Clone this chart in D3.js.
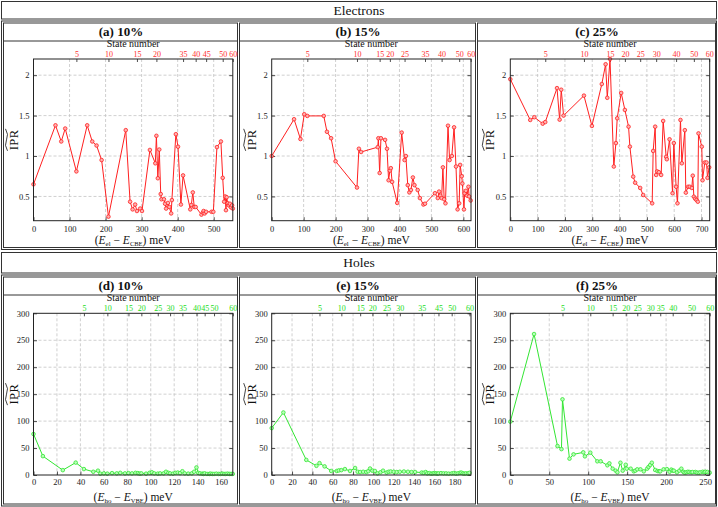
<!DOCTYPE html>
<html><head><meta charset="utf-8">
<script src="https://cdn.jsdelivr.net/npm/d3@7"></script>
<style>
body{margin:0;background:#fff}
svg{display:block}
text{font-family:"Liberation Serif","DejaVu Serif",serif}
</style>
</head><body>
<svg id="c" width="718" height="507"></svg>
<script>
// ---------------- DATA ----------------
const sectionTitles = ["Electrons", "Holes"];
const panelTitles = ["(a) 10%", "(b) 15%", "(c) 25%", "(d) 10%", "(e) 15%", "(f) 25%"];

// Electrons 10%
const e10_E = [0,61,77,88,119, 149,163,175,189,208, 256,268,275,282,287, 296,301,323,338,341, 345,349,353,355,362, 365,368,373,377,382, 384,395,401,409,415, 435,438,442,446,450, 466,470,472,475,479, 494,499,509,520,525, 529,532,534,536,539, 542,545,548,551,553];
const e10_IPR = [0.65,1.38,1.18,1.34,0.81, 1.38,1.18,1.13,0.95,0.25, 1.32,0.435,0.34,0.40,0.32, 0.35,0.32,1.075,0.91,1.25, 0.725,1.08,0.53,0.465,0.465, 0.41,0.35,0.42,0.37,0.29, 0.455,1.27,1.115,0.40,0.76, 0.34,0.395,0.55,0.37,0.37, 0.275,0.30,0.32,0.29,0.31, 0.31,0.31,1.11,1.18,0.73, 0.435,0.50,0.33,0.49,0.415, 0.39,0.41,0.365,0.39,0.35];
// Electrons 15%
const e15_E = [0,70,90,102,111.5, 163,173,186,200,267, 273,280,332,334,338, 342,355,361,366,370, 373,377,393,407,416, 420,426,431,436,442, 447,457,464,475,480, 511,520,524,528,532, 536,540,544,552,557, 564,571,577,582,587, 590,595,597,602,604, 608,612,616,618,623];
const e15_IPR = [1.0,1.455,1.21,1.517,1.496, 1.496,1.30,1.22,0.935,0.61, 1.09,1.05,1.11,1.22,0.79, 1.22,1.20,1.09,0.70,0.82, 0.85,0.68,0.42,1.29,0.95, 1.0,0.64,0.55,0.58,0.735, 0.64,0.58,0.48,0.40,0.41, 0.54,0.48,0.56,0.51,0.48, 0.86,0.465,0.415,1.375,0.95, 1.0,1.355,0.87,0.34,0.415, 0.89,0.75,0.66,0.34,0.54, 0.57,0.51,0.62,0.50,0.45];
// Electrons 25%
const e25_E = [0,73,88,118.5,128, 171,180.6,186.5,195,269.6, 298.8,335,349,355,365, 379,386.6,391.4,406,419.5, 433,437.8,450,457,475.5, 486.5,519.4,523,530.4,534, 537.7,544,552.3,559.6,570.6, 573,583,594,598.7,607, 612,623,628,639,642.6, 651,657,664.6,668,672, 676.7,681.8,686.5,689,701, 703.7,712,718.4,722,728];
const e25_IPR = [1.95,1.446,1.48,1.40,1.42, 1.84,1.45,1.82,1.50,1.747, 1.372,1.89,2.135,1.72,2.2, 0.87,1.16,1.467,1.78,1.57, 1.363,1.116,0.745,0.67,0.605, 0.518,0.415,1.063,1.363,0.766, 0.81,0.80,0.766,1.434,0.99, 0.96,1.207,0.54,1.16,0.62, 0.415,1.446,0.91,1.32,0.547, 0.62,0.62,0.605,0.757,0.497, 0.472,0.456,0.435,1.28,1.116, 0.70,0.92,0.92,0.73,0.86];
// Holes 10%
const h10_E = [0,8,25,36,43, 51,55,57,60,63, 67,71,74,78,81, 84,87,89,90.5,92, 96,99,101,103,106, 108,111,113,115,116.5, 119,121,123,125,127, 129,132,135,137,139, 140.5,142,144,145,146, 148,150,151,152.5,154, 156,158,159.5,161,162.5, 164,165.5,167,168.5,170];
const h10_IPR = [76,35,9,23,11, 6,8,2.5,3,2.5, 3.5,3,4,3,3.5, 3,4,3.5,2.5,3, 2.5,4,5,3,2.5, 3,3,6,4,3, 2.5,4,4.5,3.5,7, 3,2.5,3,6,14, 4,3,2.5,2,3, 2,2,2.5,2,2, 2.5,2,2,2.5,2, 2,2.5,2,2,2];
// Holes 15%
const h15_E = [0,11.5,34,44,47, 52,58.5,64,66,68.5, 72,77,82,84.5,87, 90,93,95,96.7,99, 101.5,104,107,109.5,113, 115,117,120,123,126, 130,134,137.5,141,147.5, 149.5,151.5,153,155,157, 158.5,160,161.5,163,164, 166.5,169,171.5,174,177, 179,181,183,185,186.5, 188,189.5,191,193,194.5];
const h15_IPR = [87,116,28,17,22, 16,7.5,7.5,8.5,9, 11,7.5,13,6,5.5, 6,5.5,7,12,8, 7.5,3,5,8,4.5, 6,6.5,6,5.5,6, 6.5,6,5.5,5.5,4.5, 4,5.5,3,3.5,2.5, 3,3.5,3,2.5,3, 3.5,3,3,2.5,3, 3.5,2.5,3,4,4.5, 3,2.5,3,3,4];
// Holes 25%
const h25_E = [0,30.5,60.6,65.7,67, 76,81.2,93.7,95.8,102.7, 111.7,116,124.6,127.2,131.4, 135.3,137.5,141.4,144.3,148.2, 149.5,154.6,158.5,160.5,163, 167.1,171.4,175.7,177.5,179.6, 181.7,186,189,191,192.5, 196.8,201,204.5,206.7,208.5, 210,214,217,219.6,222, 223.8,226,228,230,232.5, 234,237.6,239.5,241.9,244, 247,249,250.5,253,256];
const h25_IPR = [99,261.5,53.8,48,140.4, 30.3,38.3,42,34.6,41.4, 25.4,25.4,18,21.6,11.7, 8,5,22.8,8,19, 11.7,11.7,6.8,8,10.5, 10.5,6.8,11.7,15,18.5, 22.8,9.3,7.4,7,6.8, 10.5,11,6,10,8, 8,5,8,11.7,6, 4.3,5,6,5.5,5, 5.5,5.6,4.5,4.3,5, 6,5,6,5.6,4.3];

// tick labels
const stateTicks_a = [5,10,15,20,35,40,45,50,60];
const stateTicks_b = [5,10,15,20,25,35,40,50,60];
const stateTicks_c = [5,10,15,20,25,30,40,50,60];
const stateTicks_d = [5,10,15,20,25,30,35,40,45,50,60];
const stateTicks_e = [5,10,15,20,25,30,35,45,50,60];
const stateTicks_f = [5,10,15,20,25,30,35,40,50,60];
const elecYTicks = [0.5,1,1.5,2];
const holeYTicks = [0,50,100,150,200,250,300];
const xTicks_a = [0,100,200,300,400,500];
const xTicks_b = [0,100,200,300,400,500,600];
const xTicks_c = [0,100,200,300,400,500,600,700];
const xTicks_d = [0,20,40,60,80,100,120,140,160];
const xTicks_e = [0,20,40,60,80,100,120,140,160,180];
const xTicks_f = [0,50,100,150,200,250];
const xMax = [553, 624, 730, 170, 196, 256];

// ---------------- LAYOUT ----------------
const svg = d3.select("#c");
const INK = "#111";
const RED = "#ff2020", RED_FILL = "#ffb0b0", RED_TXT = "#ff3030";
const GRN = "#33e633", GRN_FILL = "#b8ffb8", GRN_TXT = "#22dd22";
const colX = [[33.5,232.8],[271.7,471],[510.3,709.7]];
const boxX = [[3,237],[239,475],[477,715]];
const sections = [
  {hy0:1, hy1:18.5, sy0:20.5, sy1:249, py0:22.5, py1:247, titleY:35.5, sepY:40.5,
   plotY0:59, plotY1:220.7, botPad:5.5, xLabY:244, stateLabY:47},
  {hy0:252, hy1:272.5, sy0:274.5, sy1:505.5, py0:276.5, py1:503.5, titleY:289.5, sepY:294.5,
   plotY0:313.3, plotY1:475, botPad:3.5, xLabY:500.5, stateLabY:301.3}
];

function box(x0,y0,x1,y1){
  svg.append("rect").attr("x",x0+0.5).attr("y",y0+0.5).attr("width",x1-x0).attr("height",y1-y0)
    .attr("fill","none").attr("stroke","#333").attr("stroke-width",1);
}

sections.forEach((s,si)=>{
  box(1,s.hy0,716,s.hy1);
  svg.append("text").attr("x",359).attr("y",(s.hy0+s.hy1)/2+5).attr("text-anchor","middle")
    .attr("font-size",13.5).attr("fill",INK).text(sectionTitles[si]);
  box(1,s.sy0,716,s.sy1);
  boxX.forEach((bx,ci)=>{
    box(bx[0],s.py0,bx[1],s.py1);
    svg.append("line").attr("x1",bx[0]).attr("x2",bx[1]+1).attr("y1",s.sepY+0.5).attr("y2",s.sepY+0.5)
      .attr("stroke","#333");
    const t = panelTitles[si*3+ci];
    svg.append("text").attr("x",(bx[0]+bx[1])/2+1).attr("y",s.titleY).attr("text-anchor","middle")
      .attr("font-size",13).attr("font-weight","bold").attr("fill",INK).text(t);
  });
});

const panels = [
  {E:e10_E, V:e10_IPR, st:stateTicks_a, xt:xTicks_a},
  {E:e15_E, V:e15_IPR, st:stateTicks_b, xt:xTicks_b},
  {E:e25_E, V:e25_IPR, st:stateTicks_c, xt:xTicks_c},
  {E:h10_E, V:h10_IPR, st:stateTicks_d, xt:xTicks_d},
  {E:h15_E, V:h15_IPR, st:stateTicks_e, xt:xTicks_e},
  {E:h25_E, V:h25_IPR, st:stateTicks_f, xt:xTicks_f}
];

panels.forEach((p,i)=>{
  const si = i<3?0:1, ci = i%3, s = sections[si];
  const elec = si===0;
  const [x0,x1] = colX[ci];
  const x = d3.scaleLinear().domain([0,xMax[i]]).range([x0,x1]);
  const y = d3.scaleLinear().domain(elec?[0.2,2.2]:[0,300]).range([s.plotY1,s.plotY0]);
  const yt = elec?elecYTicks:holeYTicks;
  const col = elec?RED:GRN, fillc = elec?RED_FILL:GRN_FILL, tcol = elec?RED_TXT:GRN_TXT;
  const g = svg.append("g");

  // grid
  g.selectAll(null).data(p.xt.filter(v=>v>0 && v<xMax[i])).join("line")
    .attr("x1",d=>x(d)).attr("x2",d=>x(d)).attr("y1",s.plotY0).attr("y2",s.plotY1)
    .attr("stroke","#c4c4c4").attr("stroke-width",0.8).attr("stroke-dasharray","3,2");
  g.selectAll(null).data(yt.filter(v=>v>y.domain()[0] && v<y.domain()[1])).join("line")
    .attr("x1",x0).attr("x2",x1).attr("y1",d=>y(d)).attr("y2",d=>y(d))
    .attr("stroke","#c4c4c4").attr("stroke-width",0.8).attr("stroke-dasharray","3,2");

  // axes
  const fontF = '"Liberation Serif","DejaVu Serif",serif';
  const bottom = g.append("g").attr("transform",`translate(0,${s.plotY1})`)
    .call(d3.axisBottom(x).tickValues(p.xt).tickSize(-3.5).tickSizeOuter(0).tickPadding(s.botPad).tickFormat(d3.format("d")));
  const left = g.append("g").attr("transform",`translate(${x0},0)`)
    .call(d3.axisLeft(y).tickValues(yt).tickSize(-3.5).tickSizeOuter(0).tickPadding(4).tickFormat(d=>String(d)));
  const right = g.append("g").attr("transform",`translate(${x1},0)`)
    .call(d3.axisRight(y).tickValues(yt).tickSize(-3.5).tickSizeOuter(0).tickFormat(""));
  const top = g.append("g").attr("transform",`translate(0,${s.plotY0})`)
    .call(d3.axisTop(x).tickValues(p.st.map(n=>p.E[n-1])).tickSize(-3).tickSizeOuter(0).tickPadding(2.5)
      .tickFormat((d,k)=>String(p.st[k])));
  [bottom,left,right,top].forEach(a=>{
    a.attr("font-family",fontF).attr("font-size",8.5);
    a.select(".domain").remove();
    a.selectAll(".tick line").attr("stroke","#222").attr("stroke-width",0.8);
  });
  top.selectAll(".tick text").attr("fill",tcol).attr("font-size",8);
  bottom.selectAll(".tick text").attr("fill","#222");
  left.selectAll(".tick text").attr("fill","#222");

  // data line and markers
  const pts = p.E.map((e,k)=>[e,p.V[k]]);
  g.append("path").attr("d",d3.line().x(d=>x(d[0])).y(d=>y(d[1]))(pts))
    .attr("fill","none").attr("stroke",col).attr("stroke-width",1);
  g.selectAll(null).data(pts).join("circle")
    .attr("cx",d=>x(d[0])).attr("cy",d=>y(d[1])).attr("r",1.8)
    .attr("fill",fillc).attr("stroke",col).attr("stroke-width",0.8);

  // frame
  g.append("rect").attr("x",x0).attr("y",s.plotY0).attr("width",x1-x0).attr("height",s.plotY1-s.plotY0)
    .attr("fill","none").attr("stroke","#222").attr("stroke-width",1);

  // state number label
  g.append("text").attr("x",(x0+x1)/2).attr("y",s.stateLabY).attr("text-anchor","middle")
    .attr("font-size",10).attr("fill",INK).text("State number");

  // x label
  const xl = g.append("text").attr("x",(x0+x1)/2).attr("y",s.xLabY).attr("text-anchor","middle")
    .attr("font-size",11.5).attr("fill",INK);
  xl.append("tspan").text("(");
  xl.append("tspan").attr("font-style","italic").text("E");
  xl.append("tspan").attr("font-size",7).attr("dy",2).text(elec?"el":"ho");
  xl.append("tspan").attr("dy",-2).text(" \u2212 ");
  xl.append("tspan").attr("font-style","italic").text("E");
  xl.append("tspan").attr("font-size",6.5).attr("dy",2).text(elec?"CBE":"VBE");
  xl.append("tspan").attr("dy",-2).text(") meV");

  // y label with tilde
  const yc = (s.plotY0+s.plotY1)/2;
  const yl = g.append("g").attr("transform",`translate(${x0-20},${yc}) rotate(-90)`);
  yl.append("text").attr("x",0).attr("y",4).attr("text-anchor","middle").attr("font-size",12.5)
    .attr("letter-spacing",0.5).attr("fill",INK).text("IPR");
  yl.append("path").attr("d","M-11,-6 Q-5.5,-9.5 0,-7 T11,-8")
    .attr("fill","none").attr("stroke",INK).attr("stroke-width",0.8);
});
</script>
</body></html>
